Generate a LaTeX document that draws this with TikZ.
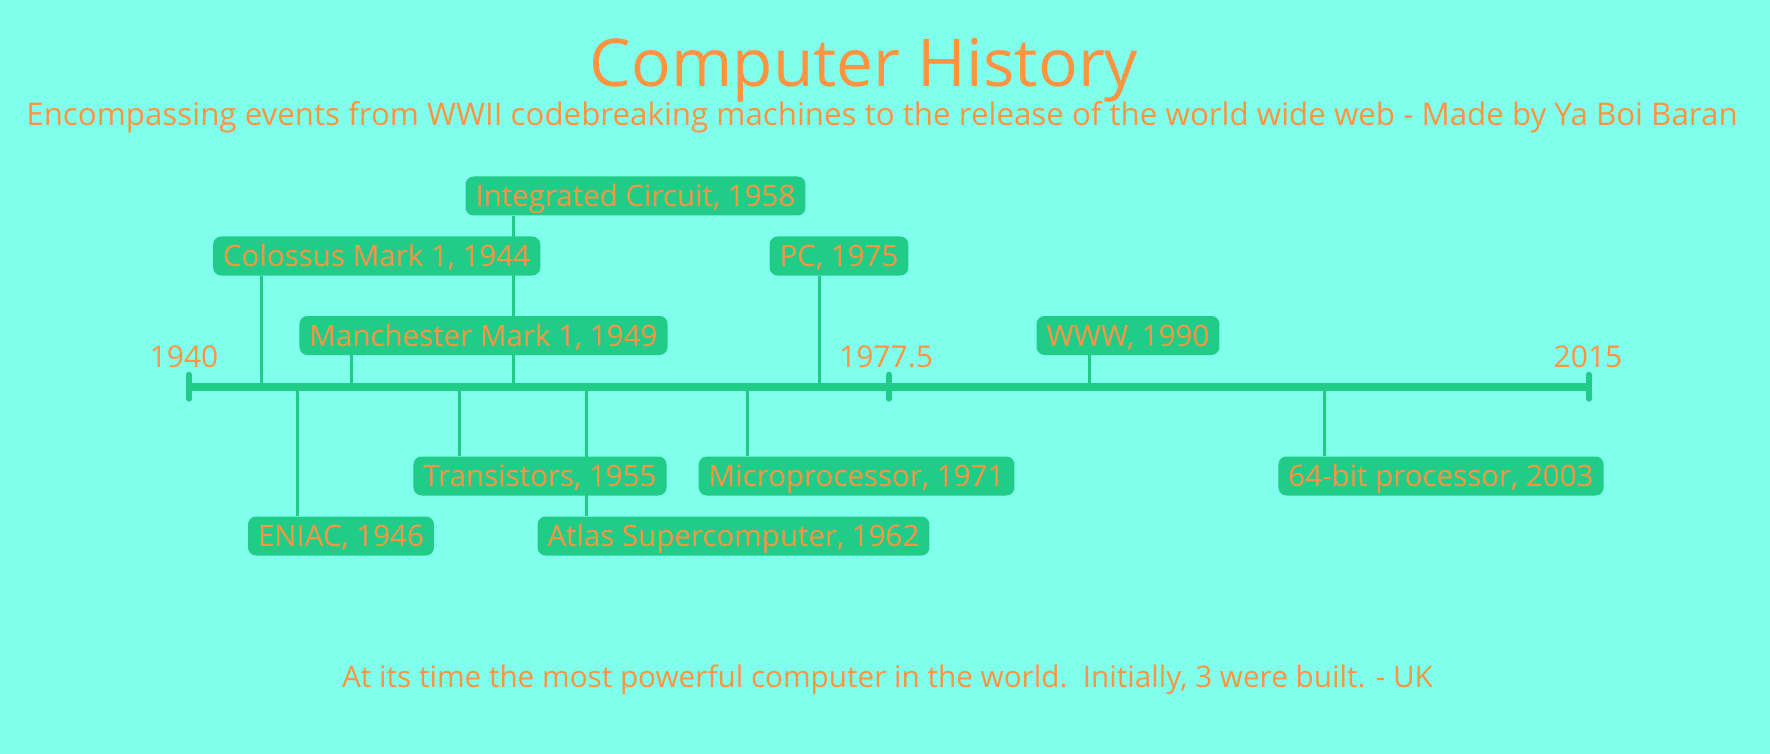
\documentclass[tikz,border=0pt]{standalone}
\usepackage{fontspec}
\setmainfont{Open Sans}
\definecolor{bgaqua}{RGB}{128,255,236}
\definecolor{boxgreen}{RGB}{32,204,136}
\definecolor{txtorange}{RGB}{255,148,64}
\pgfdeclarelayer{canvas}
\pgfdeclarelayer{stems}
\pgfsetlayers{canvas,stems,main}

\begin{document}
\begin{tikzpicture}[
    x=1pt, y=-1pt,
    event/.style={rectangle, rounded corners=8pt, fill=boxgreen, text=txtorange,
        font=\fontsize{29.5}{35}\selectfont, inner xsep=10pt, inner ysep=0pt,
        minimum height=39pt, text height=21pt, text depth=0pt},
    stem/.style={draw=boxgreen, line width=3pt},
    label/.style={text=txtorange, anchor=base, inner sep=0pt}
]

% Background
\begin{pgfonlayer}{canvas}
\fill[bgaqua] (0,0) rectangle (1770,754);
\end{pgfonlayer}
\useasboundingbox (0,0) rectangle (1770,754);

% Titles
\node[label, font=\fontsize{66}{78}\selectfont] (title) at (864,87) {Computer History};
\node[label, font=\fontsize{31.3}{37}\selectfont] (subtitle) at (882,126) {Encompassing events from WWII codebreaking machines to the release of the world wide web - Made by Ya Boi Baran};
\node[label, font=\fontsize{29.7}{35}\selectfont] (note) at (887.5,687) {At its time the most powerful computer in the world.\ \ Initially, 3 were built. - UK};

% Axis
\coordinate (start) at (189,386.7);
\coordinate (mid) at (889,386.7);
\coordinate (end) at (1589,386.7);
\draw[boxgreen, line width=8pt] (start) -- (end);
\foreach \t in {start,mid,end}
    \draw[boxgreen, line width=6pt, line cap=round] ([yshift=-12pt]\t) -- ([yshift=12pt]\t);

\node[label, font=\fontsize{30}{36}\selectfont] (l1940) at (184,367) {1940};
\node[label, font=\fontsize{30}{36}\selectfont] (l1977) at (886,367) {1977.5};
\node[label, font=\fontsize{30}{36}\selectfont] (l2015) at (1588,367) {2015};

% Events above the axis
\node[event] (ic) at (635.5,196) {Integrated Circuit, 1958};
\node[event] (colossus) at (376.7,256) {Colossus Mark 1, 1944};
\node[event] (pc) at (839,256) {PC, 1975};
\node[event] (manchester) at (483.5,335.5) {Manchester Mark 1, 1949};
\node[event] (www) at (1128,335.5) {WWW, 1990};

% Events below the axis
\node[event] (transistors) at (540,476) {Transistors, 1955};
\node[event] (micro) at (856.6,476) {Microprocessor, 1971};
\node[event] (bit64) at (1441,476) {64-bit processor, 2003};
\node[event] (eniac) at (341,536) {ENIAC, 1946};
\node[event] (atlas) at (733.5,536) {Atlas Supercomputer, 1962};

% Points on the axis
\coordinate (a1944) at (261,386.7);
\coordinate (a1946) at (297,386.7);
\coordinate (a1949) at (351,386.7);
\coordinate (a1955) at (459,386.7);
\coordinate (a1958) at (513,386.7);
\coordinate (a1962) at (586,386.7);
\coordinate (a1971) at (747,386.7);
\coordinate (a1975) at (819,386.7);
\coordinate (a1990) at (1089,386.7);
\coordinate (a2003) at (1324,386.7);

% Stems
\begin{pgfonlayer}{stems}
\draw[stem] (a1944) -- (a1944 |- colossus.south);
\draw[stem] (a1949) -- (a1949 |- manchester.south);
\draw[stem] (a1958) -- (a1958 |- ic.south);
\draw[stem] (a1975) -- (a1975 |- pc.south);
\draw[stem] (a1990) -- (a1990 |- www.south);
\draw[stem] (a1946) -- (a1946 |- eniac.north);
\draw[stem] (a1955) -- (a1955 |- transistors.north);
\draw[stem] (a1962) -- (a1962 |- atlas.north);
\draw[stem] (a1971) -- (a1971 |- micro.north);
\draw[stem] (a2003) -- (a2003 |- bit64.north);
\end{pgfonlayer}

\end{tikzpicture}
\end{document}
